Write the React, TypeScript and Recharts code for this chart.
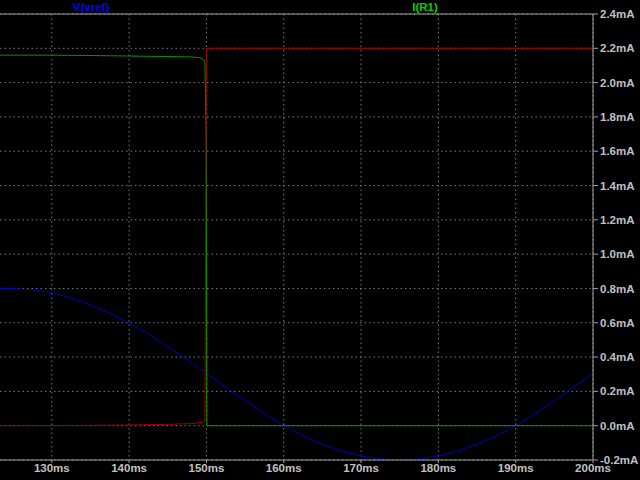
import React from 'react';
import { ComposedChart, Line, XAxis, YAxis, CartesianGrid, ReferenceLine } from 'recharts';

// time in ms, values read in mA on the right-hand scale
const vrefTime = [123.3, 125, 127.5, 130, 132.5, 135, 137.5, 140, 142.5, 145, 147.5, 150, 152.5, 155, 157.5, 160, 162.5, 165, 167.5, 170, 172.5, 175, 177.5, 180, 182.5, 185, 187.5, 190, 192.5, 195, 197.5, 200];
const vrefValue = [0.8, 0.8, 0.792, 0.775, 0.745, 0.705, 0.655, 0.6, 0.535, 0.46, 0.385, 0.305, 0.225, 0.148, 0.072, 0.0, -0.058, -0.108, -0.147, -0.176, -0.194, -0.2, -0.194, -0.176, -0.147, -0.107, -0.058, 0.0, 0.07, 0.145, 0.225, 0.305];

const r1Time = [123.3, 130, 135, 140, 145, 148, 149, 149.5, 149.8, 150, 150.05, 200];
const r1Value = [2.16, 2.16, 2.158, 2.155, 2.152, 2.15, 2.146, 2.14, 2.12, 1.6, 0.0, 0.0];

const redTime = [123.3, 135, 140, 145, 148, 149.5, 149.8, 150, 200];
const redValue = [0.0, 0.002, 0.004, 0.008, 0.012, 0.02, 0.03, 2.2, 2.2];

const xTicks = [130, 140, 150, 160, 170, 180, 190, 200];
const yTicks = [-0.2, 0, 0.2, 0.4, 0.6, 0.8, 1.0, 1.2, 1.4, 1.6, 1.8, 2.0, 2.2, 2.4];

const vrefData = vrefTime.map((t, i) => ({ t, v: vrefValue[i] }));
const r1Data = r1Time.map((t, i) => ({ t, v: r1Value[i] }));
const redData = redTime.map((t, i) => ({ t, v: redValue[i] }));

const font = 'Liberation Sans, Arial, sans-serif';
const tickStyle = { fill: '#c0c0c0', fontSize: 11.5, fontWeight: 700, fontFamily: font };

export default function App() {
  return <div style={{ position: 'absolute', left: 0, top: 0, width: 640, height: 480, background: '#000' }}>
      <ComposedChart width={640} height={480} margin={{ top: 14, right: 0, bottom: 0, left: 0 }}>
        <CartesianGrid stroke="#7a7a7a" strokeDasharray="1.5 3" horizontalValues={yTicks} verticalValues={xTicks} />
        <XAxis dataKey="t" type="number" domain={[123.3, 200]} ticks={xTicks} allowDataOverflow
          tickFormatter={(v: number) => `${v}ms`} height={20} stroke="#a0a0a0" tickSize={3} tickMargin={1} tick={tickStyle} />
        <YAxis orientation="right" type="number" domain={[-0.2, 2.4]} ticks={yTicks} allowDataOverflow
          tickFormatter={(v: number) => `${v.toFixed(1)}mA`} width={47} stroke="#a0a0a0" tickSize={5} tickMargin={2} tick={tickStyle} />
        <ReferenceLine y={2.4} stroke="#a0a0a0" />
        <Line data={vrefData} dataKey="v" stroke="#0000b4" strokeWidth={1} dot={false} isAnimationActive={false} />
        <Line data={r1Data} dataKey="v" stroke="#009600" strokeWidth={1} dot={false} isAnimationActive={false} />
        <Line data={redData} dataKey="v" stroke="#a00000" strokeWidth={1} dot={false} isAnimationActive={false} />
      </ComposedChart>
      <div style={{ position: 'absolute', left: 55, top: 0, width: 72, textAlign: 'center', color: '#0000ff', fontSize: 11.5, fontWeight: 700, fontFamily: font, lineHeight: '14px' }}>V(vref)</div>
      <div style={{ position: 'absolute', left: 400, top: 0, width: 50, textAlign: 'center', color: '#00d000', fontSize: 11.5, fontWeight: 700, fontFamily: font, lineHeight: '14px' }}>I(R1)</div>
    </div>;
}
